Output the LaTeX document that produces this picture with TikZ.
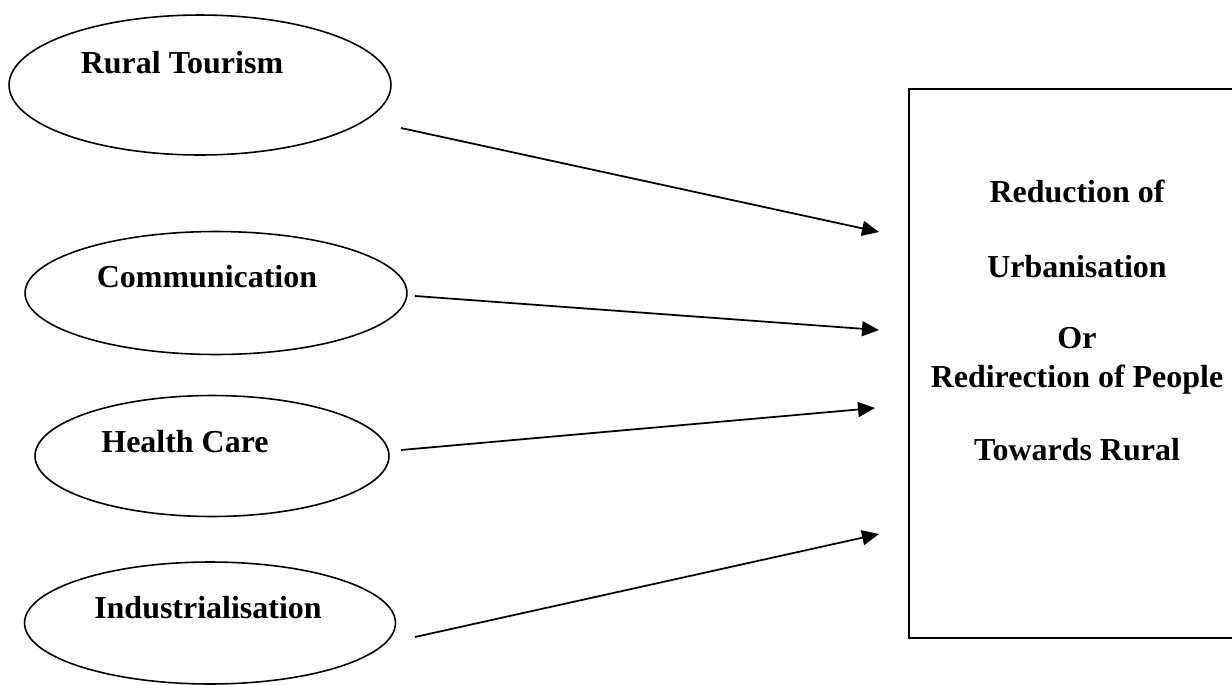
\documentclass[tikz,border=0pt]{standalone}
\usepackage{fontspec}
\setmainfont{Liberation Serif}
\usetikzlibrary{shapes.geometric,arrows.meta}

\begin{document}
\begin{tikzpicture}[x=0.02cm,y=-0.02cm,
    oval/.style={draw,ellipse,line width=0.9pt,inner sep=0pt},
    txt/.style={font=\fontsize{18.2}{22}\selectfont\bfseries,anchor=base,inner sep=0pt},
    flow/.style={-{Triangle[length=0.34cm,width=0.3cm]},line width=1pt}]

    % 画布范围
    \clip (0,0) rectangle (1232,684);

    % 左侧四个椭圆
    \node[oval,minimum width=7.64cm,minimum height=2.80cm] (rt) at (200,85) {};
    \node[oval,minimum width=7.64cm,minimum height=2.46cm] (co) at (216,293) {};
    \node[oval,minimum width=7.08cm,minimum height=2.42cm] (hc) at (212,456) {};
    \node[oval,minimum width=7.42cm,minimum height=2.44cm] (ind) at (210,623) {};

    % 椭圆中的文字
    \node[txt] (rt-t) at (182,73) {Rural Tourism};
    \node[txt] (co-t) at (207,287) {Communication};
    \node[txt] (hc-t) at (185,452) {Health Care};
    \node[txt] (ind-t) at (208,618) {Industrialisation};

    % 右侧结果框
    \node[draw,line width=1.2pt,inner sep=0pt,minimum width=6.62cm,minimum height=10.98cm] (box) at (1074.5,363.5) {};
    \node[txt] (r1) at (1077,202) {Reduction of};
    \node[txt] (r2) at (1077,277) {Urbanisation};
    \node[txt] (r3) at (1077,348) {Or};
    \node[txt] (r4) at (1077,387) {Redirection of People};
    \node[txt] (r5) at (1077,460) {Towards Rural};

    % 箭头起点与终点
    \coordinate (rt-out) at (401,128);
    \coordinate (co-out) at (415,296);
    \coordinate (hc-out) at (401,450);
    \coordinate (ind-out) at (415,637);
    \coordinate (in1) at (879,232);
    \coordinate (in2) at (879,330);
    \coordinate (in3) at (875,408);
    \coordinate (in4) at (879,534);

    % 绘制箭头
    \draw[flow] (rt-out) -- (in1);
    \draw[flow] (co-out) -- (in2);
    \draw[flow] (hc-out) -- (in3);
    \draw[flow] (ind-out) -- (in4);

\end{tikzpicture}
\end{document}
